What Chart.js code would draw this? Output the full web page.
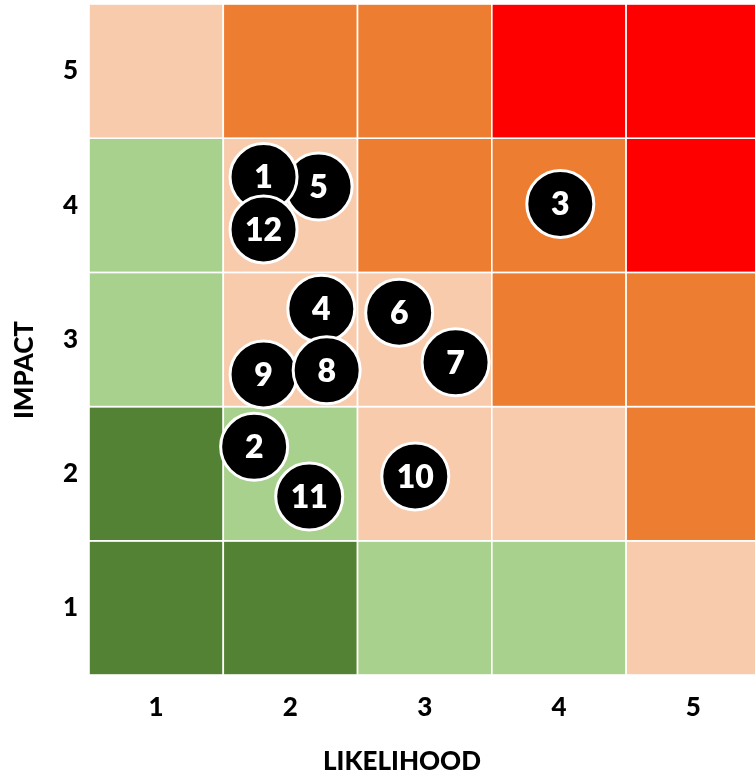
<!DOCTYPE html>
<html>
<head>
<meta charset="utf-8">
<title>Risk matrix</title>
<script src="https://cdn.jsdelivr.net/npm/chart.js@4/dist/chart.umd.min.js"></script>
<style>
  html, body { margin: 0; padding: 0; background: #ffffff; }
  #wrap { width: 755px; height: 775px; }
</style>
</head>
<body>
<div id="wrap"><canvas id="matrix" width="755" height="775"></canvas></div>
<script>
// Axis tick labels
const LIKELIHOOD_TICKS = [1, 2, 3, 4, 5];
const IMPACT_TICKS = [1, 2, 3, 4, 5];

// Risk level per cell: rows go from impact 1 (first) up to impact 5, columns likelihood 1..5
const CELL_LEVELS = [
  ['low', 'low', 'minor', 'minor', 'moderate'],
  ['low', 'minor', 'moderate', 'moderate', 'high'],
  ['minor', 'moderate', 'moderate', 'high', 'high'],
  ['minor', 'moderate', 'high', 'high', 'extreme'],
  ['moderate', 'high', 'high', 'extreme', 'extreme']
];
const LEVEL_COLOURS = {
  low: '#548235',
  minor: '#A9D18E',
  moderate: '#F8CBAD',
  high: '#ED7D31',
  extreme: '#FF0000'
};

// Numbered risks, listed in drawing order (later ones sit on top)
const RISK_IDS        = [5,    1,    12,   3,    4,    6,    7,    9,    8,    2,    11,   10];
const RISK_LIKELIHOOD = [2.21, 1.80, 1.80, 4.01, 2.23, 2.81, 3.23, 1.80, 2.27, 1.73, 2.14, 2.93];
const RISK_IMPACT     = [4.14, 4.21, 3.82, 4.01, 3.23, 3.20, 2.83, 2.74, 2.77, 2.20, 1.83, 1.98];

const FONT_FAMILY = 'Lato, "Open Sans", "DejaVu Sans", sans-serif';

// Coloured cells behind the risks, laid out through the chart's own scales
const cellsPlugin = {
  id: 'riskCells',
  beforeDatasetsDraw(chart) {
    const { ctx, scales: { x, y } } = chart;
    ctx.save();
    CELL_LEVELS.forEach((row, r) => {
      row.forEach((level, c) => {
        const lik = LIKELIHOOD_TICKS[c];
        const imp = IMPACT_TICKS[r];
        const x0 = x.getPixelForValue(lik - 0.5);
        const x1 = x.getPixelForValue(lik + 0.5);
        const y0 = y.getPixelForValue(imp + 0.5);
        const y1 = y.getPixelForValue(imp - 0.5);
        ctx.fillStyle = LEVEL_COLOURS[level];
        ctx.fillRect(x0, y0, x1 - x0, y1 - y0);
        ctx.strokeStyle = '#ffffff';
        ctx.lineWidth = 1.6;
        ctx.strokeRect(x0, y0, x1 - x0, y1 - y0);
      });
    });
    ctx.restore();
  }
};

// Risk numbers written in the middle of each bubble
const riskLabelsPlugin = {
  id: 'riskLabels',
  afterDatasetsDraw(chart) {
    const { ctx } = chart;
    const meta = chart.getDatasetMeta(0);
    ctx.save();
    ctx.fillStyle = '#ffffff';
    ctx.font = '800 32px ' + FONT_FAMILY;
    ctx.textAlign = 'center';
    ctx.textBaseline = 'middle';
    meta.data.forEach((pt, i) => {
      ctx.fillText(String(RISK_IDS[i]), pt.x, pt.y + 1);
    });
    ctx.restore();
  }
};

// Axis titles
const axisTitlesPlugin = {
  id: 'axisTitles',
  afterDraw(chart) {
    const { ctx, chartArea } = chart;
    ctx.save();
    ctx.fillStyle = '#000000';
    ctx.font = '900 26px ' + FONT_FAMILY;
    ctx.textAlign = 'center';
    ctx.textBaseline = 'middle';
    ctx.fillText('LIKELIHOOD', chartArea.left + 313, chartArea.bottom + 87);
    ctx.translate(25, chartArea.top + 366);
    ctx.rotate(-Math.PI / 2);
    ctx.fillText('IMPACT', 0, 0);
    ctx.restore();
  }
};

const tickFont = { family: FONT_FAMILY, size: 26, weight: '900' };

new Chart(document.getElementById('matrix'), {
  type: 'scatter',
  data: {
    datasets: [{
      data: RISK_IDS.map((id, i) => ({ x: RISK_LIKELIHOOD[i], y: RISK_IMPACT[i] })),
      pointRadius: 33.5,
      pointHoverRadius: 33.5,
      backgroundColor: '#000000',
      borderColor: '#ffffff',
      borderWidth: 3,
      pointHoverBorderWidth: 3,
      clip: false
    }]
  },
  options: {
    responsive: false,
    animation: false,
    events: [],
    layout: { autoPadding: false, padding: { top: 4, right: 0, bottom: 0, left: 0 } },
    plugins: {
      legend: { display: false },
      tooltip: { enabled: false }
    },
    scales: {
      x: {
        type: 'linear',
        min: 0.5,
        max: 5.46,
        afterBuildTicks(scale) { scale.ticks = LIKELIHOOD_TICKS.map(v => ({ value: v })); },
        afterFit(scale) { scale.height = 100; scale.paddingLeft = 0; scale.paddingRight = 0; },
        grid: { display: false },
        border: { display: false },
        ticks: { padding: 9, color: '#000000', font: tickFont }
      },
      y: {
        type: 'linear',
        min: 0.5,
        max: 5.5,
        afterBuildTicks(scale) { scale.ticks = IMPACT_TICKS.map(v => ({ value: v })); },
        afterFit(scale) { scale.width = 89; scale.paddingTop = 0; scale.paddingBottom = 0; },
        grid: { display: false },
        border: { display: false },
        ticks: { padding: 3, color: '#000000', font: tickFont }
      }
    }
  },
  plugins: [cellsPlugin, riskLabelsPlugin, axisTitlesPlugin]
});
</script>
</body>
</html>
